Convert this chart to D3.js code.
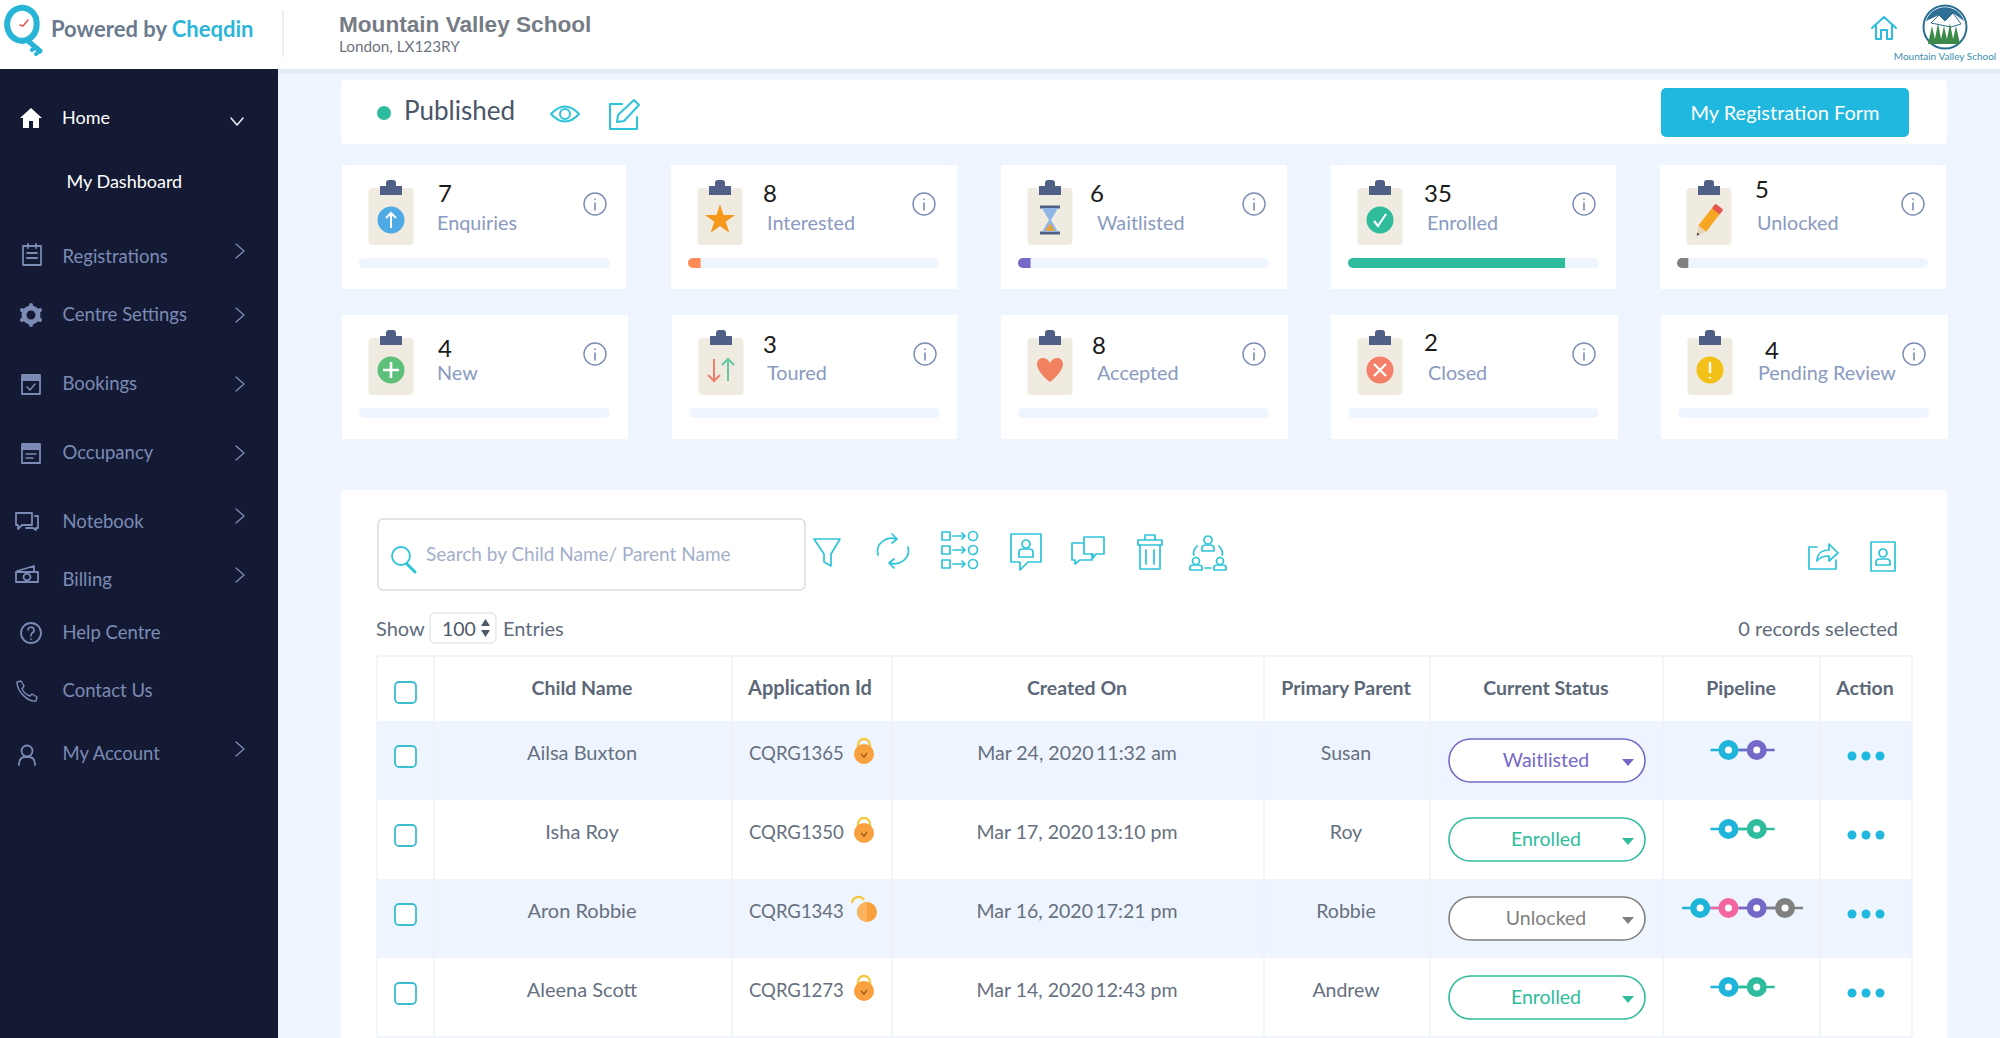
<!DOCTYPE html>
<html>
<head>
<meta charset="utf-8">
<title>Mountain Valley School dashboard</title>
<script src="https://cdn.jsdelivr.net/npm/d3@7"></script>
<style>
  html, body { margin: 0; padding: 0; background: #eef5fe; overflow: hidden; }
  svg { display: block; font-family: Lato, "Open Sans", sans-serif; }
</style>
</head>
<body>
<svg id="chart" width="2000" height="1038"></svg>
<script>
// data
const navLabels = ["Registrations", "Centre Settings", "Bookings", "Occupancy", "Notebook", "Billing", "Help Centre", "Contact Us", "My Account"];
const navHasChevron = [true, true, true, true, true, true, false, false, true];

const cardLabels = ["Enquiries", "Interested", "Waitlisted", "Enrolled", "Unlocked", "New", "Toured", "Accepted", "Closed", "Pending Review"];
const cardValues = [7, 8, 6, 35, 5, 4, 3, 8, 2, 4];
const cardProgress = [0, 5, 5, 86.5, 4.5, 0, 0, 0, 0, 0]; // percent of the bar
const cardBarColors = ["#eef5fe", "#ff8a55", "#7468c8", "#2fbc9c", "#808080", "#eef5fe", "#eef5fe", "#eef5fe", "#eef5fe", "#eef5fe"];

const tableHeaders = ["Child Name", "Application Id", "Created On", "Primary Parent", "Current Status", "Pipeline", "Action"];
const childNames = ["Ailsa Buxton", "Isha Roy", "Aron Robbie", "Aleena Scott"];
const applicationIds = ["CQRG1365", "CQRG1350", "CQRG1343", "CQRG1273"];
const appLocked = [true, true, false, true];
const createdOn = ["Mar 24, 2020\u200911:32 am", "Mar 17, 2020\u200913:10 pm", "Mar 16, 2020\u200917:21 pm", "Mar 14, 2020\u200912:43 pm"];
const primaryParents = ["Susan", "Roy", "Robbie", "Andrew"];
const currentStatus = ["Waitlisted", "Enrolled", "Unlocked", "Enrolled"];
const pipelines = [
  ["Enquiry", "Waitlisted"],
  ["Enquiry", "Enrolled"],
  ["Enquiry", "Interested", "Waitlisted", "Unlocked"],
  ["Enquiry", "Enrolled"]
];

// colours
const statusColor = d3.scaleOrdinal()
  .domain(["Enquiry", "Interested", "Waitlisted", "Enrolled", "Unlocked"])
  .range(["#1fb5da", "#f2659f", "#7468c8", "#2fbc9c", "#808080"]);
const navColor = "#7b8bb5";
const cyan = "#2dc4d8";
const bodyText = "#667080";

const svg = d3.select("#chart");

function text(parent, str, x, y, size, fill, opts = {}) {
  return parent.append("text")
    .attr("x", x).attr("y", y)
    .attr("font-size", size)
    .attr("fill", fill)
    .attr("text-anchor", opts.anchor || "start")
    .attr("font-weight", opts.weight || 400)
    .attr("font-family", opts.family || null)
    .text(str);
}

function icon(parent, x, y, color, width = 2) {
  return parent.append("g")
    .attr("transform", `translate(${x},${y})`)
    .attr("fill", "none")
    .attr("stroke", color)
    .attr("stroke-width", width)
    .attr("stroke-linecap", "round")
    .attr("stroke-linejoin", "round");
}

// page background and header
svg.append("rect").attr("width", 2000).attr("height", 1038).attr("fill", "#eef5fe");
svg.append("rect").attr("y", 69).attr("width", 2000).attr("height", 5).attr("fill", "#e4ecf6");
svg.append("rect").attr("width", 2000).attr("height", 69).attr("fill", "#fff");

// cheqdin logo
const logo = icon(svg, 21, 24, "#27b4d6", 6);
logo.append("path").attr("d", "M8,15 A15,16.5 0 1 1 15,-6");
logo.append("path").attr("d", "M15,-6 C17,4 14,12 6,16");
logo.append("path").attr("d", "M6,16 L19,27").attr("stroke-width", 5);
logo.append("path").attr("d", "M19,27 L15,30 M14,23 L11,26").attr("stroke-width", 4);
logo.append("path").attr("d", "M-1,1 L2,2 L7,-4").attr("stroke", "#e8574f").attr("stroke-width", 1.6);

const poweredBy = text(svg, "Powered by ", 51, 37, 22, "#6b7a8d", { weight: 700 });
poweredBy.append("tspan").attr("fill", "#2bb5d8").text("Cheqdin");
svg.append("line").attr("x1", 283).attr("x2", 283).attr("y1", 10).attr("y2", 57).attr("stroke", "#e8e8e8").attr("stroke-width", 1.5);
text(svg, "Mountain Valley School", 339, 32, 22.6, "#767c85", { weight: 700, family: "Liberation Sans" });
text(svg, "London, LX123RY", 339, 52, 15.3, "#6d7580");

// top right home icon and school badge
const homeTop = icon(svg, 1884, 28, "#2dbbe0", 2);
homeTop.append("path").attr("d", "M-12,0 L0,-11 L12,0 M-8,-2 V11 H-3 V2 H3 V11 H8 V-2");

const badge = svg.append("g").attr("transform", "translate(1945,27)");
badge.append("circle").attr("r", 21.5).attr("fill", "#fff").attr("stroke", "#2b6f91").attr("stroke-width", 2);
badge.append("path").attr("d", "M-19,-6 A20,20 0 0 1 19,-6 L8,-14 L0,-6 L-6,-12 Z").attr("fill", "#2f6f96");
badge.append("path").attr("d", "M-14,-4 L-6,-12 L0,-6 L8,-14 L16,-3 L6,0 Z").attr("fill", "#fff").attr("stroke", "#2f6f96");
[-13, -7, -1, 5, 11].forEach((dx, i) => {
  badge.append("path")
    .attr("d", `M${dx},${i % 2 ? -4 : -1} L${dx - 4},17 H${dx + 4} Z`)
    .attr("fill", "#3c8a4a");
});
text(svg, "Mountain Valley School", 1945, 60, 10, "#3b8fb0", { anchor: "middle" });

// sidebar
const side = svg.append("g");
side.append("rect").attr("y", 69).attr("width", 278).attr("height", 969).attr("fill", "#141a33");

const homeIcon = side.append("g").attr("transform", "translate(31,118)");
homeIcon.append("path").attr("d", "M-11,0 L0,-10 L11,0 H8 V10 H2 V3 H-2 V10 H-8 V0 Z").attr("fill", "#fff");
text(side, "Home", 62, 124, 18, "#fff");
icon(side, 237, 121, "#e6eaf2", 1.6).append("path").attr("d", "M-6,-3 L0,4 L6,-3");
text(side, "My Dashboard", 66.5, 188, 18, "#fff");

const navBaseline = [263, 321, 390, 459, 528, 586, 639, 697, 760];
const navIconX = [32, 31, 31, 31, 27, 27, 31, 27, 27];
const navIconY = [255, 315, 384, 453, 521, 575, 633, 691, 755];
const navChevronY = [251, 315, 384, 453, 516, 575, 0, 0, 749];

const navIcons = [
  g => g.append("path").attr("d", "M-9,-9 H9 V10 H-9 Z M-4,-11 V-7 M4,-11 V-7 M-5,-2 H5 M-5,3 H5"),
  g => {
    g.attr("stroke-width", 5).append("circle").attr("r", 7);
    g.append("path").attr("stroke-width", 4).attr("d", "M0,-10 V-9 M0,10 V9 M-9,-5 L-8,-4 M9,5 L8,4 M-9,5 L-8,4 M9,-5 L8,-4");
  },
  g => {
    g.append("path").attr("d", "M-9,-6 H9 V10 H-9 Z");
    g.append("rect").attr("x", -9).attr("y", -9).attr("width", 18).attr("height", 5).attr("fill", navColor);
    g.append("path").attr("d", "M-4,3 L-1,6 L4,0").attr("stroke-width", 1.5);
  },
  g => {
    g.append("path").attr("d", "M-9,-6 H9 V10 H-9 Z");
    g.append("rect").attr("x", -9).attr("y", -9).attr("width", 18).attr("height", 5).attr("fill", navColor);
    g.append("path").attr("d", "M-5,1 H5 M-5,5 H2").attr("stroke-width", 1.5);
  },
  g => g.append("path").attr("d", "M-11,-8 H5 V4 H-5 L-9,8 V4 H-11 Z M8,-5 H11 V7 H9 V9 L6,7 H-1"),
  g => {
    g.append("path").attr("d", "M-11,-3 H11 V7 H-11 Z M-10,-4 L7,-9 V-4");
    g.append("circle").attr("cy", 2).attr("r", 3.5);
  },
  g => {
    g.append("circle").attr("r", 10);
    g.append("path").attr("d", "M-3,-3 A3,3 0 1 1 1,0 Q0,1 0,3 M0,6 V6.5").attr("stroke-width", 1.6);
  },
  g => g.append("path").attr("d", "M-10,-9 L-6,-10 L-3,-5 L-5,-2 C-3,2 0,4 3,5 L5,3 L10,6 L9,10 C1,11 -10,1 -10,-9 Z").attr("stroke-width", 1.4),
  g => {
    g.append("circle").attr("cy", -4).attr("r", 5.5);
    g.append("path").attr("d", "M-8,10 C-8,3 -4,2 -2,2 H2 C4,2 8,3 8,10");
  }
];

navLabels.forEach((label, i) => {
  text(side, label, 62.5, navBaseline[i], 18.5, navColor);
  navIcons[i](icon(side, navIconX[i], navIconY[i], navColor, 1.8));
  if (navHasChevron[i]) {
    icon(side, 240, navChevronY[i], navColor, 1.3).append("path").attr("d", "M-4,-7 L4,0 L-4,7");
  }
});

// published bar
const pub = svg.append("g");
pub.append("rect").attr("x", 341).attr("y", 80).attr("width", 1606).attr("height", 64).attr("rx", 4).attr("fill", "#fff");
pub.append("circle").attr("cx", 384).attr("cy", 113).attr("r", 7).attr("fill", "#2fbc9c");
text(pub, "Published", 404, 120, 26, "#4a5568");
const eye = icon(pub, 565, 114, cyan, 2);
eye.append("path").attr("d", "M-14,0 Q0,-15 14,0 Q0,15 -14,0 Z");
eye.append("circle").attr("r", 5);
const edit = icon(pub, 624, 115, cyan, 2);
edit.append("path").attr("d", "M-2,-11 H-14 V14 H13 V2");
edit.append("path").attr("d", "M-7,7 L-6,0 L10,-15 L15,-10 L0,6 Z");
pub.append("rect").attr("x", 1661).attr("y", 88).attr("width", 248).attr("height", 49).attr("rx", 5).attr("fill", "#20b8de");
text(pub, "My Registration Form", 1785, 120, 20, "#fff", { anchor: "middle" });

// status cards
const cardX = [342, 671, 1001, 1331, 1660, 342, 672, 1001, 1331, 1661];
const cardW = [284, 286, 286, 285, 286, 286, 285, 287, 287, 287];
const cardY = [165, 165, 165, 165, 165, 315, 315, 315, 315, 315];
const numberX = [438, 763, 1090, 1424, 1755, 438, 763, 1092, 1424, 1765];
const numberY = [202, 202, 202, 202, 198, 357, 353, 354, 351, 359];
const labelX = [437, 767, 1097, 1427, 1757, 437, 767, 1097, 1428, 1758];
const barScale = d3.scaleLinear().domain([0, 100]).range([0, 251]);

const cardGlyphs = [
  g => {
    g.append("circle").attr("r", 13.5).attr("fill", "#4eaae4");
    g.append("path").attr("d", "M0,8 V-7 M-5,-2 L0,-7 L5,-2").attr("fill", "none").attr("stroke", "#fff").attr("stroke-width", 2);
  },
  g => g.append("path").attr("fill", "#f7981d")
    .attr("d", d3.symbol().type(d3.symbolStar).size(280)()),
  g => {
    g.append("path").attr("d", "M-10,-13 H10 M-10,13 H10").attr("stroke", "#4f5f85").attr("stroke-width", 3);
    g.append("path").attr("d", "M-8,-12 H8 L1,0 L8,12 H-8 L-1,0 Z").attr("fill", "#8fb6e6");
    g.append("path").attr("d", "M-5,11 H5 L0,3 Z").attr("fill", "#e7a33e");
  },
  g => {
    g.append("circle").attr("r", 13.5).attr("fill", "#2fbc9c");
    g.append("path").attr("d", "M-6,1 L-2,6 L6,-6").attr("fill", "none").attr("stroke", "#fff").attr("stroke-width", 2.2);
  },
  g => {
    g.attr("transform", g.attr("transform") + " rotate(38)");
    g.append("rect").attr("x", -5).attr("y", -12).attr("width", 10).attr("height", 23).attr("fill", "#f6a623");
    g.append("rect").attr("x", -5).attr("y", -17).attr("width", 10).attr("height", 6).attr("rx", 1.5).attr("fill", "#e3574f");
    g.append("path").attr("d", "M-5,11 L0,20 L5,11 Z").attr("fill", "#e9d5b5");
    g.append("path").attr("d", "M-1.5,17 L0,20 L1.5,17 Z").attr("fill", "#444");
  },
  g => {
    g.append("circle").attr("r", 13.5).attr("fill", "#5cc07a");
    g.append("path").attr("d", "M0,-8 V8 M-8,0 H8").attr("stroke", "#fff").attr("stroke-width", 2.6);
  },
  g => {
    g.append("path").attr("d", "M-7,-11 V11 M-13,5 L-7,11 L-1,5").attr("fill", "none").attr("stroke", "#ee7f68").attr("stroke-width", 2);
    g.append("path").attr("d", "M7,11 V-11 M1,-5 L7,-11 L13,-5").attr("fill", "none").attr("stroke", "#66c7a3").attr("stroke-width", 2);
  },
  g => g.append("path").attr("fill", "#f0825f")
    .attr("d", "M0,12 C-18,-2 -14,-12 -7,-12 C-3,-12 -1,-9 0,-7 C1,-9 3,-12 7,-12 C14,-12 18,-2 0,12 Z"),
  g => {
    g.append("circle").attr("r", 13.5).attr("fill", "#f5806a");
    g.append("path").attr("d", "M-6,-6 L6,6 M6,-6 L-6,6").attr("stroke", "#fff").attr("stroke-width", 2.2);
  },
  g => {
    g.append("circle").attr("r", 13.5).attr("fill", "#f2c017");
    g.append("path").attr("d", "M0,-8 V3 M0,7 V8.5").attr("stroke", "#fff").attr("stroke-width", 2.4);
  }
];

cardLabels.forEach((label, i) => {
  const x = cardX[i];
  const y = cardY[i];
  const g = svg.append("g");
  g.append("rect").attr("x", x).attr("y", y).attr("width", cardW[i]).attr("height", 124).attr("fill", "#fff");

  // clipboard
  const cx = x + 49;
  g.append("rect").attr("x", cx - 22.5).attr("y", y + 23).attr("width", 45).attr("height", 57).attr("rx", 4).attr("fill", "#f0ebe0");
  g.append("path").attr("fill", "#4f5f85")
    .attr("d", `M${cx - 11},${y + 30} v-9 h6 v-3 q0,-3 3,-3 h4 q3,0 3,3 v3 h6 v9 Z`);
  cardGlyphs[i](g.append("g").attr("transform", `translate(${cx},${y + 55})`));

  text(g, cardValues[i], numberX[i], numberY[i], 24, "#1a1a1a");
  text(g, label, labelX[i], y + 65, 19.8, "#8a9ac0");

  const info = icon(g, x + 253, y + 39, "#7c8db5", 1.4);
  info.append("circle").attr("r", 11);
  info.append("path").attr("d", "M0,-1 V6 M0,-5 V-4.6").attr("stroke-width", 1.6);

  // progress bar
  g.append("rect").attr("x", x + 17).attr("y", y + 93).attr("width", 251).attr("height", 10).attr("rx", 5).attr("fill", "#eef5fe");
  if (cardProgress[i] > 0) {
    g.append("path").attr("fill", cardBarColors[i])
      .attr("d", `M${x + 17 + barScale(cardProgress[i])},${y + 93} h${-barScale(cardProgress[i]) + 5} a5,5 0 0 0 0,10 h${barScale(cardProgress[i]) - 5} Z`);
  }
});

// table panel
const panel = svg.append("g");
panel.append("rect").attr("x", 341).attr("y", 490).attr("width", 1606).attr("height", 560).attr("rx", 4).attr("fill", "#fff");

// search box
panel.append("rect").attr("x", 378).attr("y", 519).attr("width", 427).attr("height", 71).attr("rx", 5).attr("fill", "#fff").attr("stroke", "#d8dde3").attr("stroke-width", 1.5);
const searchIcon = icon(panel, 401, 556, cyan, 1.8);
searchIcon.append("circle").attr("r", 9);
searchIcon.append("path").attr("d", "M6,8 L14,16").attr("stroke-width", 3);
text(panel, "Search by Child Name/ Parent Name", 426, 561, 19, "#a3afc9");

// toolbar icons
const toolbarX = [827, 893, 960, 1026, 1088, 1150, 1208];
const toolbarY = [552, 551, 550, 549, 549, 551, 552];
const toolbarIcons = [
  g => g.append("path").attr("d", "M-13,-13 H13 L4,2 V14 L-3,10 V2 Z"),
  g => {
    g.append("path").attr("d", "M-15,4 C-18,-8 -6,-15 3,-12 M-1,-17 L4,-12 L-1,-8");
    g.append("path").attr("d", "M15,-4 C18,8 6,15 -3,12 M1,17 L-4,12 L1,8");
  },
  g => {
    [-14, 0, 14].forEach(dy => {
      g.append("rect").attr("x", -18).attr("y", dy - 4).attr("width", 8).attr("height", 8);
      g.append("path").attr("d", `M-7,${dy} H5 M2,${dy - 3} L5,${dy} L2,${dy + 3}`);
      g.append("circle").attr("cx", 13).attr("cy", dy).attr("r", 4.5);
    });
  },
  g => {
    g.append("path").attr("d", "M-15,-15 H15 V13 H2 L-6,21 V13 H-15 Z");
    g.append("circle").attr("cy", -5).attr("r", 4);
    g.append("path").attr("d", "M-7,8 V3 Q-7,0 -3,0 H3 Q7,0 7,3 V8 Z");
  },
  g => {
    g.append("path").attr("d", "M-4,-12 H16 V5 H8 L5,9 V5 H-4 Z");
    g.append("path").attr("d", "M-4,-6 H-16 V11 H-13 V15 L-8,11 H4 V5");
  },
  g => {
    g.append("path").attr("d", "M-12,-11 H12 V-6 H-12 Z M-5,-11 V-16 H5 V-11");
    g.append("path").attr("d", "M-10,-6 V18 H10 V-6 M-4,-1 V13 M4,-1 V13");
  },
  g => {
    g.append("circle").attr("cy", -12).attr("r", 4);
    g.append("path").attr("d", "M-6,-1 V-4 Q-6,-7 -2,-7 H2 Q6,-7 6,-4 V-1 Z");
    g.append("circle").attr("cx", -12).attr("cy", 9).attr("r", 3.5);
    g.append("path").attr("d", "M-18,18 V15 Q-18,13 -14,13 H-10 Q-6,13 -6,15 V18 Z");
    g.append("circle").attr("cx", 12).attr("cy", 9).attr("r", 3.5);
    g.append("path").attr("d", "M6,18 V15 Q6,13 10,13 H14 Q18,13 18,15 V18 Z");
    g.append("path").attr("d", "M-11,-6 Q-16,0 -14,3 M11,-6 Q16,0 14,3 M-3,16 H3");
  }
];
toolbarIcons.forEach((draw, i) => draw(icon(panel, toolbarX[i], toolbarY[i], cyan, 1.7)));

const share = icon(panel, 1823, 556, cyan, 1.7);
share.append("path").attr("d", "M-6,-9 H-14 V13 H13 V4");
share.append("path").attr("d", "M-6,5 C-6,-4 1,-6 6,-6 V-12 L15,-3 L6,5 V0 C1,0 -3,1 -6,5 Z");
const contact = icon(panel, 1883, 556, cyan, 1.7);
contact.append("path").attr("d", "M-12,-14 H12 V15 H-12 Z");
contact.append("circle").attr("cy", -3).attr("r", 4);
contact.append("path").attr("d", "M-7,9 V6 Q-7,3 -3,3 H3 Q7,3 7,6 V9 Z");

// show entries line
text(panel, "Show", 376, 636, 20, "#5e6b7c");
panel.append("rect").attr("x", 430).attr("y", 613).attr("width", 66).attr("height", 30).attr("rx", 5).attr("fill", "#fff").attr("stroke", "#e3e8ef").attr("stroke-width", 1.5);
text(panel, "100", 442, 636, 19.5, "#4f5a68");
panel.append("path").attr("d", "M481,626 L485.5,619 L490,626 Z M481,630 L485.5,637 L490,630 Z").attr("fill", "#4f5a68");
text(panel, "Entries", 503, 636, 20, "#5e6b7c");
text(panel, "0 records selected", 1898, 636, 20, "#5e6b7c", { anchor: "end" });

// table
const columnEdges = [377, 434, 732, 892, 1264, 1430, 1663, 1820, 1912];
const columnCenters = [582, 810, 1077, 1346, 1546, 1741, 1865];
const rowScale = d3.scaleBand().domain(childNames).range([721, 1037]);
const rowH = rowScale.bandwidth();

childNames.forEach((name, i) => {
  if (i % 2 === 0) {
    panel.append("rect").attr("x", 377).attr("y", rowScale(name)).attr("width", 1535).attr("height", rowH).attr("fill", "#eef5fe");
  }
});

panel.selectAll("line.col").data(columnEdges).enter().append("line")
  .attr("class", "col")
  .attr("x1", d => d).attr("x2", d => d)
  .attr("y1", 656).attr("y2", 1037)
  .attr("stroke", "#eef2f8").attr("stroke-width", 1.5);
panel.append("line").attr("x1", 377).attr("x2", 1912).attr("y1", 656).attr("y2", 656).attr("stroke", "#eef2f8").attr("stroke-width", 1.5);
panel.append("line").attr("x1", 377).attr("x2", 1912).attr("y1", 1037).attr("y2", 1037).attr("stroke", "#eef2f8").attr("stroke-width", 1.5);

function checkbox(y) {
  panel.append("rect").attr("x", 395).attr("y", y).attr("width", 21).attr("height", 21).attr("rx", 4)
    .attr("fill", "#fff").attr("stroke", "#3bbdd0").attr("stroke-width", 1.8);
}

checkbox(682);
const headerSizes = [19.5, 20, 19.5, 19.5, 19.5, 19.5, 19.5];
tableHeaders.forEach((h, i) => {
  text(panel, h, columnCenters[i], 695, headerSizes[i], "#5c6878", { anchor: "middle", weight: 700 });
});

childNames.forEach((name, i) => {
  const top = rowScale(name);
  const base = top + 39;
  checkbox(top + 25);
  text(panel, name, columnCenters[0], base, 20, bodyText, { anchor: "middle" });
  text(panel, applicationIds[i], 749, base, 18.5, bodyText);
  text(panel, createdOn[i], columnCenters[2], base, 19.5, bodyText, { anchor: "middle" });
  text(panel, primaryParents[i], columnCenters[3], base, 19.5, bodyText, { anchor: "middle" });

  // padlock
  const lockX = appLocked[i] ? 864 : 867;
  const lock = panel.append("g").attr("transform", `translate(${lockX},${top + 33})`);
  if (appLocked[i]) {
    lock.append("path").attr("d", "M-6,-6 V-9 A6,6 0 0 1 6,-9 V-6").attr("fill", "none").attr("stroke", "#f5c842").attr("stroke-width", 2.4);
  } else {
    lock.append("path").attr("d", "M-15,-9 A6.5,6.5 0 0 1 -3,-12").attr("fill", "none").attr("stroke", "#f5c842").attr("stroke-width", 2.4);
  }
  lock.append("circle").attr("r", 10).attr("fill", "#f9a03f");
  if (appLocked[i]) {
    lock.append("path").attr("d", "M-3,0 L0,3 L3,-1").attr("fill", "none").attr("stroke", "#a8621c").attr("stroke-width", 1.6);
  } else {
    lock.append("path").attr("d", "M0,-10 A10,10 0 0 0 0,10 Z").attr("fill", "#fbb35f");
  }

  // status pill
  const color = statusColor(currentStatus[i]);
  panel.append("rect").attr("x", 1449).attr("y", top + 18).attr("width", 196).attr("height", 43).attr("rx", 21.5)
    .attr("fill", "#fff").attr("stroke", color).attr("stroke-width", 1.6);
  text(panel, currentStatus[i], columnCenters[4], top + 46, 19.5, color, { anchor: "middle" });
  panel.append("path").attr("d", `M1622,${top + 38} h12 l-6,7 Z`).attr("fill", color);

  // pipeline beads
  const stages = pipelines[i];
  const beadX = d3.scalePoint().domain(d3.range(stages.length))
    .range([1742.6 - (stages.length - 1) * 14.15, 1742.6 + (stages.length - 1) * 14.15]);
  const beads = panel.append("g").attr("transform", `translate(0,${top + 29})`);
  stages.forEach((stage, k) => {
    beads.append("line").attr("x1", beadX(k) - 18).attr("x2", beadX(k) + 18)
      .attr("stroke", statusColor(stage)).attr("stroke-width", 2.5);
  });
  stages.forEach((stage, k) => {
    beads.append("circle").attr("cx", beadX(k)).attr("r", 6.8)
      .attr("fill", "#fff").attr("stroke", statusColor(stage)).attr("stroke-width", 6.5);
  });

  // action dots
  [1852, 1866, 1880].forEach(dx => {
    panel.append("circle").attr("cx", dx).attr("cy", top + 35).attr("r", 4.5).attr("fill", "#20b8de");
  });
});
</script>
</body>
</html>
